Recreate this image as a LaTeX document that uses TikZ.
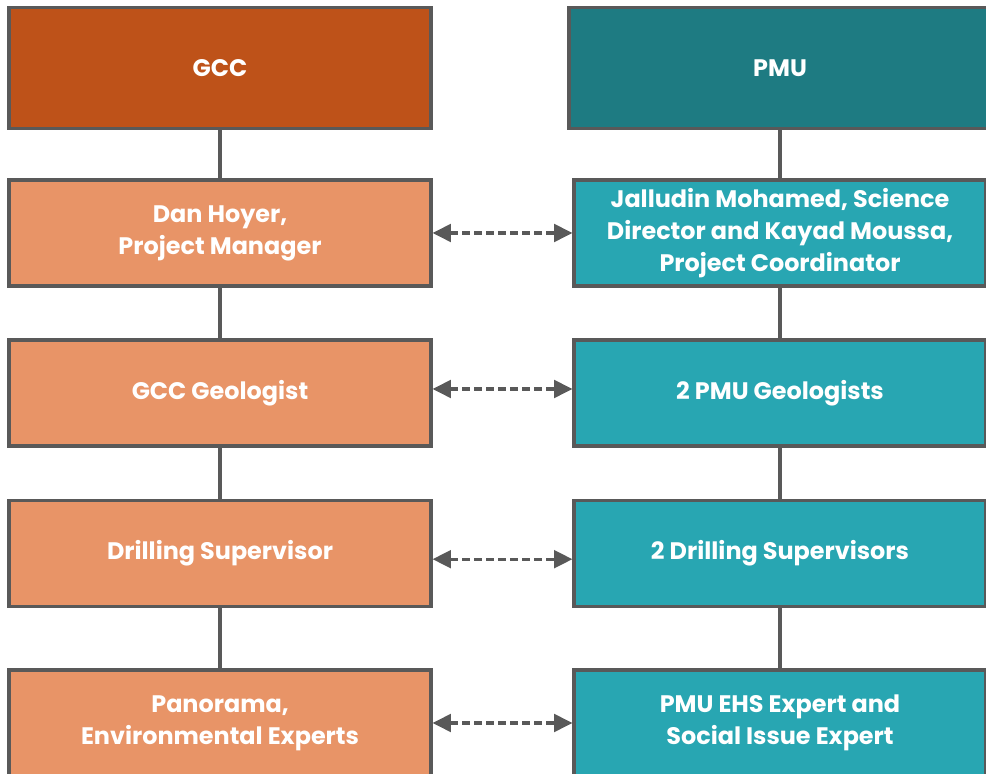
\documentclass[tikz,border=0pt]{standalone}
\usepackage{fontspec}
\setmainfont{Poppins}
\usepackage{tikz}
\usetikzlibrary{arrows.meta}

\definecolor{gccdark}{RGB}{190,82,25}
\definecolor{gcclight}{RGB}{232,148,103}
\definecolor{pmudark}{RGB}{30,123,130}
\definecolor{pmulight}{RGB}{40,166,178}
\definecolor{edgegray}{RGB}{89,89,89}

\begin{document}
\begin{tikzpicture}[
  box/.style={draw=edgegray,line width=2.2pt,text=white,align=center,
    font=\fontsize{17}{22.8}\selectfont\bfseries,minimum height=2.65cm},
  gcc/.style={box,fill=gcclight,minimum width=10.55cm},
  pmu/.style={box,fill=pmulight,minimum width=10.3cm},
  link/.style={edgegray,line width=2.2pt},
  liaison/.style={edgegray,line width=2.4pt,dash pattern=on 0.2cm off 0.1cm,
    {Triangle[length=0.46cm,width=0.44cm]}-{Triangle[length=0.46cm,width=0.44cm]}}
]

\useasboundingbox (0,0) rectangle (24.65,19.35);

\node (GCC) at (5.5,17.64) [gcc,fill=gccdark,minimum height=3.025cm]{GCC};
\node (PMU) at (19.5,17.64) [pmu,fill=pmudark,minimum width=10.55cm,minimum height=3.025cm]{PMU};

\node (DanHoyer) at (5.5,13.525) [gcc]{Dan Hoyer,\\Project Manager};
\node (GCCGeologist) at (5.5,9.525) [gcc]{GCC Geologist};
\node (DrillingSupervisor) at (5.5,5.51) [gcc]{Drilling Supervisor};
\node (Panorama) at (5.5,1.275) [gcc]{Panorama,\\Environmental Experts};

\node (JalludinMohamed) at (19.5,13.525) [pmu]{Jalludin Mohamed, Science\\Director and Kayad Moussa,\\Project Coordinator};
\node (PMUGeologists) at (19.5,9.525) [pmu]{2 PMU Geologists};
\node (DrillingSupervisors) at (19.5,5.51) [pmu]{2 Drilling Supervisors};
\node (EHSExpert) at (19.5,1.275) [pmu]{PMU EHS Expert and\\Social Issue Expert};

% reporting lines
\draw [link] (GCC) -- (DanHoyer);
\draw [link] (DanHoyer) -- (GCCGeologist);
\draw [link] (GCCGeologist) -- (DrillingSupervisor);
\draw [link] (DrillingSupervisor) -- (Panorama);

\draw [link] (PMU) -- (JalludinMohamed);
\draw [link] (JalludinMohamed) -- (PMUGeologists);
\draw [link] (PMUGeologists) -- (DrillingSupervisors);
\draw [link] (DrillingSupervisors) -- (EHSExpert);

% counterparts
\draw [liaison] (DanHoyer.east) -- (JalludinMohamed.west);
\draw [liaison] ([yshift=0.1cm]GCCGeologist.east) -- ([yshift=0.1cm]PMUGeologists.west);
\draw [liaison] ([yshift=-0.14cm]DrillingSupervisor.east) -- ([yshift=-0.14cm]DrillingSupervisors.west);
\draw [liaison] (Panorama.east) -- (EHSExpert.west);

\end{tikzpicture}
\end{document}
